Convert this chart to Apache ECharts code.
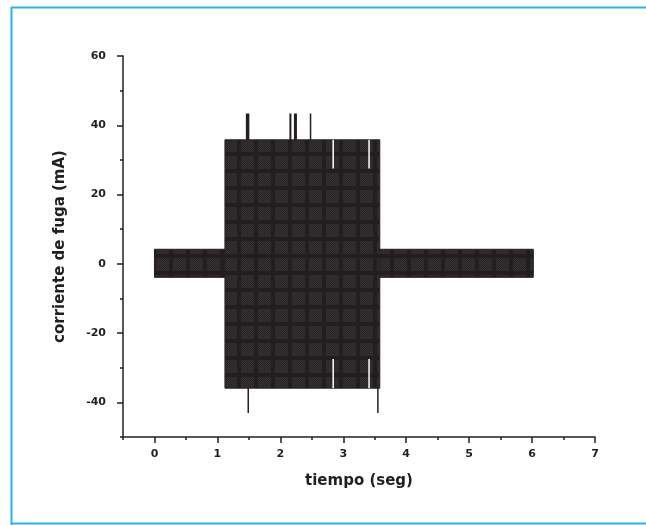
<!DOCTYPE html>
<html>
<head>
<meta charset="utf-8">
<script src="https://cdn.jsdelivr.net/npm/echarts@6/dist/echarts.min.js"></script>
<style>html,body{margin:0;padding:0;background:#fff}#c{width:646px;height:525px}</style>
</head>
<body>
<div id="c"></div>
<script>
// ---- data ----
const bandStart = [0, 1.12, 3.58];
const bandEnd   = [1.12, 3.58, 6.02];
const bandHigh  = [4.2, 35.8, 4.2];
const bandLow   = [-3.9, -35.9, -3.9];
const spikeTime = [1.48, 2.16, 2.24, 2.48, 1.49, 3.55];
const spikePeak = [43.4, 43.4, 43.4, 43.4, -43.1, -43.1];
const notchTime = [2.84, 3.41, 2.84, 3.41];
const notchFrom = [27.5, 27.5, -27.5, -27.5];
const notchTo   = [35.8, 35.8, -35.9, -35.9];
const xMajorTicks = [0, 1, 2, 3, 4, 5, 6, 7];
const xMinorTicks = [-0.5, 0.5, 1.5, 2.5, 3.5, 4.5, 5.5, 6.5];
const yMajorTicks = [-40, -20, 0, 20, 40, 60];
const yMinorTicks = [-50, -30, -10, 10, 30, 50];
const xName = 'tiempo (seg)';
const yName = 'corriente de fuga (mA)';

// ---- styles ----
const spikeWidths = [3.5, 2, 3, 1.5, 1.5, 1.5];
const ink = '#231f20';
const pc = document.createElement('canvas');
pc.width = 17; pc.height = 17;
const g = pc.getContext('2d');
g.fillStyle = '#221e1f'; g.fillRect(0, 0, 17, 17);
for (let y = 3; y < 16; y++) for (let x = 3; x < 16; x++) {
  g.fillStyle = ((x + y) % 2) ? '#363233' : '#282425';
  g.fillRect(x, y, 1, 1);
}
const texture = { image: pc, repeat: 'repeat' };

const bandData = bandStart.map((s, i) => [s, bandEnd[i], bandLow[i], bandHigh[i]]);
const spikeData = spikeTime.map((t, i) => [t, spikePeak[i], i]);
const notchData = notchTime.map((t, i) => [t, notchFrom[i], notchTo[i]]);

const labelFont = { fontFamily: 'DejaVu Sans', fontWeight: 'bold', fontSize: 11, color: ink };

const chart = echarts.init(document.getElementById('c'));
chart.setOption({
  animation: false,
  backgroundColor: '#fff',
  grid: { left: 123, right: 51, top: 56, bottom: 88 },
  xAxis: [{
    type: 'value', min: -0.5, max: 7, position: 'bottom',
    name: xName, nameLocation: 'middle', nameGap: 37,
    nameTextStyle: { fontFamily: 'DejaVu Sans', fontWeight: 'bold', fontSize: 15, color: ink },
    axisLine: { show: true, onZero: false, lineStyle: { color: ink, width: 1.5 } },
    axisTick: { show: true, customValues: xMajorTicks, length: 6, lineStyle: { color: ink, width: 1.5 } },
    axisLabel: Object.assign({ customValues: xMajorTicks, margin: 12 }, labelFont),
    splitLine: { show: false }
  }, {
    type: 'value', min: -0.5, max: 7, position: 'bottom',
    axisLine: { show: false, onZero: false },
    axisTick: { show: true, customValues: xMinorTicks, length: 3, lineStyle: { color: ink, width: 1.5 } },
    axisLabel: { show: false },
    splitLine: { show: false }
  }],
  yAxis: [{
    type: 'value', min: -50, max: 60, position: 'left',
    name: yName, nameLocation: 'middle', nameGap: 55, nameRotate: 90,
    nameTextStyle: { fontFamily: 'DejaVu Sans', fontWeight: 'bold', fontSize: 15, color: ink },
    axisLine: { show: true, onZero: false, lineStyle: { color: ink, width: 1.5 } },
    axisTick: { show: true, customValues: yMajorTicks, length: 6, lineStyle: { color: ink, width: 1.5 } },
    axisLabel: Object.assign({ customValues: yMajorTicks, margin: 17 }, labelFont),
    splitLine: { show: false }
  }, {
    type: 'value', min: -50, max: 60, position: 'left',
    axisLine: { show: false, onZero: false },
    axisTick: { show: true, customValues: yMinorTicks, length: 3, lineStyle: { color: ink, width: 1.5 } },
    axisLabel: { show: false },
    splitLine: { show: false }
  }],
  graphic: [
    { type: 'line', shape: { x1: 11.5, y1: 7, x2: 11.5, y2: 525 }, style: { stroke: '#22b5ee', lineWidth: 2 }, z: 100 },
    { type: 'line', shape: { x1: 11, y1: 7.5, x2: 646, y2: 7.5 }, style: { stroke: '#22b5ee', lineWidth: 2 }, z: 100 },
    { type: 'line', shape: { x1: 11, y1: 523.5, x2: 646, y2: 523.5 }, style: { stroke: '#22b5ee', lineWidth: 2 }, z: 100 }
  ],
  series: [{
    type: 'custom',
    data: spikeData,
    encode: { x: 0, y: 1 },
    renderItem: function (params, api) {
      const a = api.coord([api.value(0), 0]);
      const b = api.coord([api.value(0), api.value(1)]);
      return {
        type: 'line',
        shape: { x1: a[0], y1: a[1], x2: b[0], y2: b[1] },
        style: { stroke: ink, lineWidth: spikeWidths[api.value(2)] }
      };
    },
    z: 1
  }, {
    type: 'custom',
    data: bandData,
    encode: { x: [0, 1], y: [2, 3] },
    renderItem: function (params, api) {
      const p0 = api.coord([api.value(0), api.value(3)]);
      const p1 = api.coord([api.value(1), api.value(2)]);
      return {
        type: 'rect',
        shape: { x: p0[0], y: p0[1], width: p1[0] - p0[0], height: p1[1] - p0[1] },
        style: { fill: texture, stroke: ink, lineWidth: 1 }
      };
    },
    z: 2
  }, {
    type: 'custom',
    data: notchData,
    encode: { x: 0, y: [1, 2] },
    renderItem: function (params, api) {
      const a = api.coord([api.value(0), api.value(1)]);
      const b = api.coord([api.value(0), api.value(2)]);
      return {
        type: 'line',
        shape: { x1: a[0], y1: a[1], x2: b[0], y2: b[1] },
        style: { stroke: '#ffffff', lineWidth: 1.5 }
      };
    },
    z: 4
  }]
});
</script>
</body>
</html>
